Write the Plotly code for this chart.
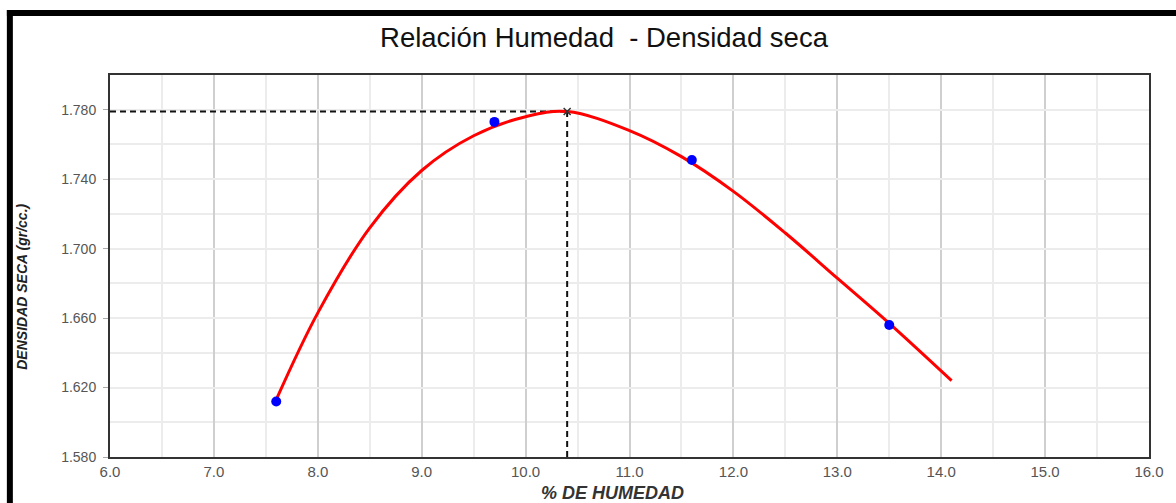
import plotly.graph_objects as go

# Data points (ensayo Proctor)
humedad = [7.6, 9.7, 11.6, 13.5]
densidad = [1.612, 1.773, 1.751, 1.656]

# Fitted curve
curva_x = [7.6, 8.0, 8.5, 9.0, 9.5, 10.0, 10.4, 11.0, 11.5, 12.0, 12.5, 13.0, 13.5, 14.1]
curva_y = [1.613, 1.663, 1.712, 1.745, 1.765, 1.776, 1.779, 1.768, 1.753, 1.733, 1.709, 1.683, 1.657, 1.624]

# Optimum
optimo_x = 10.4
optimo_y = 1.779

x_min, x_max = 6.0, 16.0
y_min, y_max = 1.58, 1.80

W, H = 1176, 503
L, R, T, B = 110, 18, 75, 46
pw, ph = W - L - R, H - T - B


def px(xp):
    return (xp - L) / pw


def py(yp):
    return (H - B - yp) / ph


fig = go.Figure()

# dashed guide lines
fig.add_trace(go.Scatter(x=[x_min, optimo_x], y=[optimo_y, optimo_y], mode="lines",
                         line=dict(color="#111", width=2, dash="6px,4px"),
                         hoverinfo="skip", showlegend=False, cliponaxis=False))
fig.add_trace(go.Scatter(x=[optimo_x, optimo_x], y=[y_min, optimo_y], mode="lines",
                         line=dict(color="#111", width=2, dash="6px,4px"),
                         hoverinfo="skip", showlegend=False, cliponaxis=False))

# curve
fig.add_trace(go.Scatter(x=curva_x, y=curva_y, mode="lines",
                         line=dict(color="#ff0000", width=3, shape="spline", smoothing=1.0),
                         showlegend=False))

# points
fig.add_trace(go.Scatter(x=humedad, y=densidad, mode="markers",
                         marker=dict(color="#0000ff", size=10, symbol="circle"),
                         showlegend=False))

# optimum marker
fig.add_trace(go.Scatter(x=[optimo_x], y=[optimo_y], mode="markers",
                         marker=dict(color="#333", size=7, symbol="x-thin",
                                     line=dict(color="#333", width=1.5)),
                         showlegend=False))

fig.update_layout(
    width=W, height=H,
    margin=dict(l=L, r=R, t=T, b=B),
    paper_bgcolor="white", plot_bgcolor="white",
    font=dict(family="Arial, Liberation Sans, sans-serif"),
    title=dict(text="Relación Humedad\u00a0 - Densidad seca", x=604 / W, xref="container", xanchor="center",
               y=1 - 37 / H, yref="container", yanchor="middle",
               font=dict(size=27.5, color="#111")),
    showlegend=False,
)

fig.update_xaxes(
    range=[x_min, x_max], dtick=1.0, tick0=6.0, tickformat=".1f",
    showgrid=True, gridcolor="#cfcfcf", gridwidth=2,
    minor=dict(dtick=0.5, showgrid=True, gridcolor="#ececec", gridwidth=1.5),
    showline=True, linecolor="#333", linewidth=2, mirror=True,
    ticks="", tickfont=dict(size=15, color="#555"),
    zeroline=False,
)
fig.update_yaxes(
    range=[y_min, y_max], dtick=0.04, tick0=1.58, tickformat=".3f",
    showgrid=True, gridcolor="#ececec", gridwidth=1.5,
    minor=dict(dtick=0.02, showgrid=True, gridcolor="#ececec", gridwidth=1.5),
    showline=True, linecolor="#333", linewidth=2, mirror=True,
    ticks="outside", ticklen=5, tickcolor="#aaa", tickfont=dict(size=14, color="#555"),
    ticklabelstandoff=4,
    zeroline=False,
)

# axis titles
fig.add_annotation(text="<b><i>% DE HUMEDAD</i></b>", xref="paper", yref="paper",
                   x=px(617), y=py(493), xanchor="center", yanchor="middle",
                   showarrow=False, font=dict(size=18, color="#333"))
fig.add_annotation(text="<b><i>DENSIDAD SECA (gr/cc.)</i></b>", xref="paper", yref="paper",
                   x=px(21), y=py(287), xanchor="center", yanchor="middle", textangle=-90,
                   showarrow=False, font=dict(size=14, color="#222"))

# outer black frame
fig.add_shape(type="line", xref="paper", yref="paper", x0=px(6), x1=px(1200), y0=py(13), y1=py(13),
              line=dict(color="black", width=6))
fig.add_shape(type="line", xref="paper", yref="paper", x0=px(9), x1=px(9), y0=py(10), y1=py(540),
              line=dict(color="black", width=6))

fig.write_html("out.html")
